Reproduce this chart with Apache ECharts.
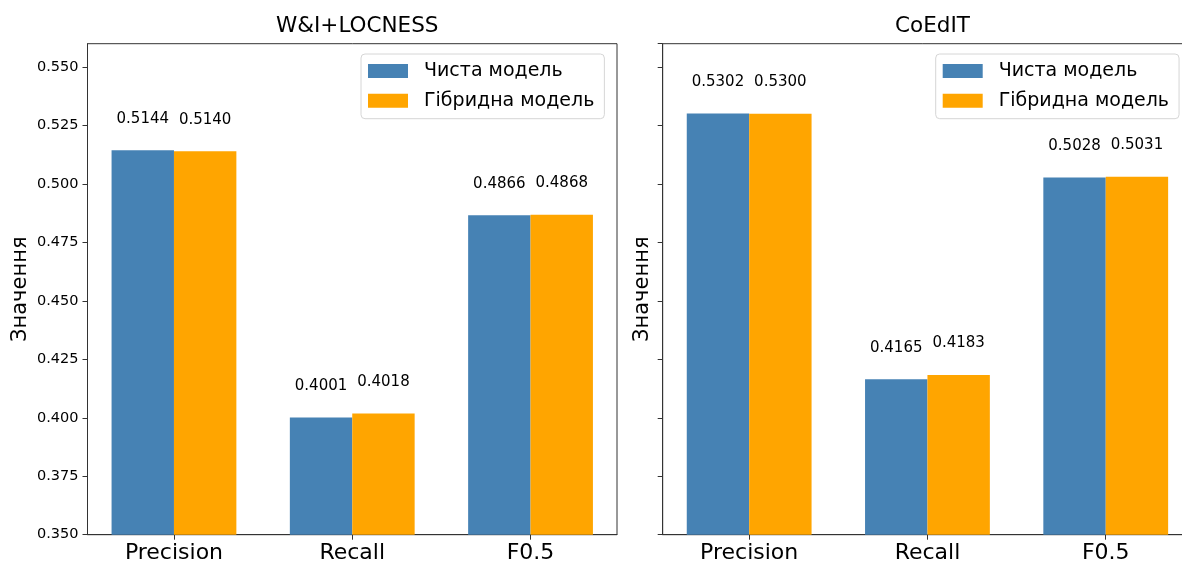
<!DOCTYPE html>
<html>
<head>
<meta charset="utf-8">
<script src="https://cdn.jsdelivr.net/npm/echarts@6/dist/echarts.min.js"></script>
<style>
  html, body { margin: 0; padding: 0; background: #fff; }
  #chart { width: 1182px; height: 566px; }
</style>
</head>
<body>
<div id="chart"></div>
<script>
// Metrics per dataset
const categories = ['Precision', 'Recall', 'F0.5'];
const seriesNames = ['Чиста модель', 'Гібридна модель'];
const panelTitles = ['W&I+LOCNESS', 'CoEdIT'];
const wiPure = [0.5144, 0.4001, 0.4866];
const wiHybrid = [0.5140, 0.4018, 0.4868];
const coPure = [0.5302, 0.4165, 0.5028];
const coHybrid = [0.5300, 0.4183, 0.5031];
const yMin = 0.35, yMax = 0.56, yStep = 0.025;

const FONT = 'DejaVu Sans';
const INK = '#000';
const SPINE = '#333';
const BLUE = '#4682B4';
const ORANGE = '#FFA500';

// Two panels of equal size; the second one runs slightly past the right edge
const PANEL_W = 529.5;
const grids = [
  { left: 87.5, width: PANEL_W, top: 43.7, height: 491 },
  { left: 662.7, width: PANEL_W, top: 43.7, height: 491 }
];

function xAxisFor(i) {
  return {
    type: 'value', gridIndex: i, min: -0.485, max: 2.485,
    axisLine: { show: true, onZero: false, lineStyle: { color: SPINE, width: 1 } },
    splitLine: { show: false },
    axisTick: { show: true, length: 5, customValues: [0, 1, 2], lineStyle: { color: SPINE } },
    axisLabel: {
      customValues: [0, 1, 2],
      formatter: v => categories[Math.round(v)],
      fontFamily: FONT, fontSize: 22, color: INK, margin: 8
    }
  };
}

function yAxisFor(i, showLabels) {
  return {
    type: 'value', gridIndex: i, min: yMin, max: yMax, interval: yStep,
    name: 'Значення', nameLocation: 'middle', nameGap: showLabels ? 56 : 10,
    nameTextStyle: { fontFamily: FONT, fontSize: 21, color: INK },
    axisLine: { show: true, onZero: false, lineStyle: { color: SPINE, width: 1 } },
    splitLine: { show: false },
    axisTick: { show: true, length: 5, lineStyle: { color: SPINE } },
    axisLabel: {
      show: showLabels,
      formatter: v => v.toFixed(3),
      fontFamily: FONT, fontSize: 14.5, color: INK, margin: 9,
      showMaxLabel: false
    }
  };
}

function barSeries(name, values, color, i) {
  return {
    type: 'bar', name: name, xAxisIndex: i, yAxisIndex: i,
    data: values.map((v, k) => [k, v]),
    barWidth: 62.4, barGap: '0%',
    itemStyle: { color: color },
    label: {
      show: true, position: 'top', distance: 24,
      formatter: p => p.value[1].toFixed(4),
      fontFamily: FONT, fontSize: 15, color: INK
    },
    emphasis: { disabled: true },
    animation: false
  };
}

function legendFor(left) {
  return {
    orient: 'vertical', left: left, top: 54,
    data: seriesNames.map(n => ({ name: n, icon: 'rect' })),
    itemWidth: 40, itemHeight: 14, itemGap: 10.7,
    padding: [7.5, 10, 8.5, 7],
    backgroundColor: '#fff', borderColor: '#d6d6d6', borderWidth: 1, borderRadius: 4,
    textStyle: { fontFamily: FONT, fontSize: 19, color: INK, lineHeight: 19, padding: [0, 0, 0, 11] },
    selectedMode: false
  };
}

const option = {
  backgroundColor: '#fff',
  animation: false,
  title: [
    { text: panelTitles[0], left: 87.5 + PANEL_W / 2, top: 10, textAlign: 'center',
      textStyle: { fontFamily: FONT, fontSize: 21.5, fontWeight: 'normal', color: INK } },
    { text: panelTitles[1], left: 662.7 + PANEL_W / 2, top: 10, textAlign: 'center',
      textStyle: { fontFamily: FONT, fontSize: 21.5, fontWeight: 'normal', color: INK } }
  ],
  grid: grids.map(g => Object.assign({
    show: true, borderColor: SPINE, borderWidth: 1, backgroundColor: 'transparent',
    containLabel: false, outerBoundsMode: 'none'
  }, g)),
  xAxis: [xAxisFor(0), xAxisFor(1)],
  yAxis: [yAxisFor(0, true), yAxisFor(1, false)],
  legend: [legendFor(361), legendFor(935.7)],
  series: [
    barSeries(seriesNames[0], wiPure, BLUE, 0),
    barSeries(seriesNames[1], wiHybrid, ORANGE, 0),
    barSeries(seriesNames[0], coPure, BLUE, 1),
    barSeries(seriesNames[1], coHybrid, ORANGE, 1)
  ]
};

const chart = echarts.init(document.getElementById('chart'), null, { renderer: 'canvas' });
chart.setOption(option);
</script>
</body>
</html>
